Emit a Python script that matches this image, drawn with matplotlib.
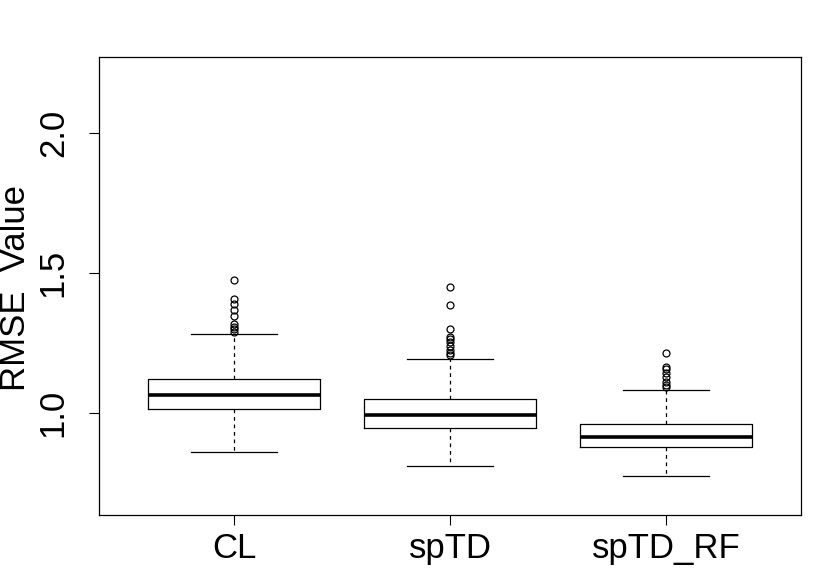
import matplotlib
matplotlib.use("Agg")
import matplotlib.pyplot as plt

categories = ["CL", "spTD", "spTD_RF"]
whislo = [0.862, 0.811, 0.775]
q1 = [1.013, 0.948, 0.880]
medians = [1.064, 0.993, 0.915]
q3 = [1.121, 1.049, 0.962]
whishi = [1.282, 1.193, 1.082]
outliers = [
    [1.475, 1.407, 1.388, 1.368, 1.348, 1.317, 1.308, 1.299, 1.290],
    [1.449, 1.385, 1.299, 1.273, 1.263, 1.252, 1.239, 1.225, 1.215, 1.207],
    [1.215, 1.165, 1.156, 1.144, 1.130, 1.112, 1.100, 1.092],
]
yticks = [1.0, 1.5, 2.0]

plt.rcParams['font.family'] = ['Liberation Sans', 'DejaVu Sans']

fig = plt.figure(figsize=(8.3, 5.88), dpi=100)
ax = fig.add_axes([99/830, 1-515/588, (801-99)/830, (515-57)/588])

stats = []
for i, c in enumerate(categories):
    stats.append(dict(label=c, whislo=whislo[i], q1=q1[i], med=medians[i],
                      q3=q3[i], whishi=whishi[i], fliers=outliers[i]))

ax.bxp(stats, positions=[1, 2, 3], widths=0.8, showfliers=True,
       boxprops=dict(color='black', linewidth=0.9),
       medianprops=dict(color='black', linewidth=2.6),
       whiskerprops=dict(color='black', linewidth=0.9, linestyle=(0, (3, 3))),
       capprops=dict(color='black', linewidth=0.9),
       capwidths=0.4,
       flierprops=dict(marker='o', markerfacecolor='none', markeredgecolor='black',
                       markersize=5, markeredgewidth=0.9))

ax.set_xlim(0.375, 3.625)
ax.set_ylim(0.636, 2.271)
ax.set_yticks(yticks)
ax.set_yticklabels([f"{v:.1f}" for v in yticks], rotation=90, va='center')
ax.set_xticks([1, 2, 3])
ax.set_xticklabels(categories)
ax.tick_params(axis='both', labelsize=25, length=7, width=0.8, direction='out')
ax.tick_params(axis='x', pad=5)
ax.tick_params(axis='y', pad=14)
for s in ax.spines.values():
    s.set_linewidth(0.9)

fig.text(16/830, 1-288/588, "RMSE  Value", rotation=90, fontsize=25,
         ha='center', va='center')

fig.savefig("out.png", dpi=100)
